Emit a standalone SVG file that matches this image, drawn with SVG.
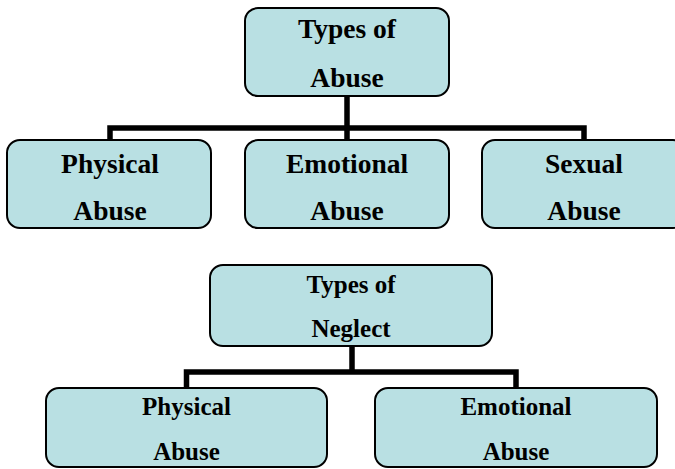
<svg xmlns="http://www.w3.org/2000/svg" width="675" height="469" viewBox="0 0 675 469">
<style>
.box{fill:#b9e0e3;stroke:#000;stroke-width:2}
.t1{font-family:"Liberation Serif","Times New Roman",serif;font-weight:bold;font-size:27.5px;text-anchor:middle;fill:#000}
.t2{font-family:"Liberation Serif","Times New Roman",serif;font-weight:bold;font-size:25px;text-anchor:middle;fill:#000}
.con{fill:none;stroke:#000;stroke-width:5.5;stroke-linejoin:miter}
</style>
<rect width="675" height="469" fill="#fff"/>
<g id="connectors">
<path class="con" d="M347 96 V128 M110 140 V128 H584 V140 M347 128 V140"/>
<path class="con" d="M352 346 V372 M186.5 388 V372 H516 V388"/>
</g>
<g id="abuse">
<rect class="box" x="245" y="8" width="204" height="88" rx="13"/>
<text class="t1" x="347" y="38">Types of</text>
<text class="t1" x="347" y="87">Abuse</text>
</g>
<g id="physical-abuse">
<rect class="box" x="7" y="140" width="204" height="88" rx="13"/>
<text class="t1" x="110" y="173">Physical</text>
<text class="t1" x="110" y="220">Abuse</text>
</g>
<g id="emotional-abuse">
<rect class="box" x="245" y="140" width="204" height="88" rx="13"/>
<text class="t1" x="347" y="173">Emotional</text>
<text class="t1" x="347" y="220">Abuse</text>
</g>
<g id="sexual-abuse">
<rect class="box" x="482" y="140" width="204" height="88" rx="13"/>
<text class="t1" x="584" y="173">Sexual</text>
<text class="t1" x="584" y="220">Abuse</text>
</g>
<g id="neglect">
<rect class="box" x="210" y="265" width="282" height="81" rx="13"/>
<text class="t2" x="351" y="293">Types of</text>
<text class="t2" x="351" y="337">Neglect</text>
</g>
<g id="physical-neglect">
<rect class="box" x="46" y="388" width="281" height="79" rx="13"/>
<text class="t2" x="186.5" y="415">Physical</text>
<text class="t2" x="186.5" y="460">Abuse</text>
</g>
<g id="emotional-neglect">
<rect class="box" x="375" y="388" width="282" height="79" rx="13"/>
<text class="t2" x="516" y="415">Emotional</text>
<text class="t2" x="516" y="460">Abuse</text>
</g>
</svg>
